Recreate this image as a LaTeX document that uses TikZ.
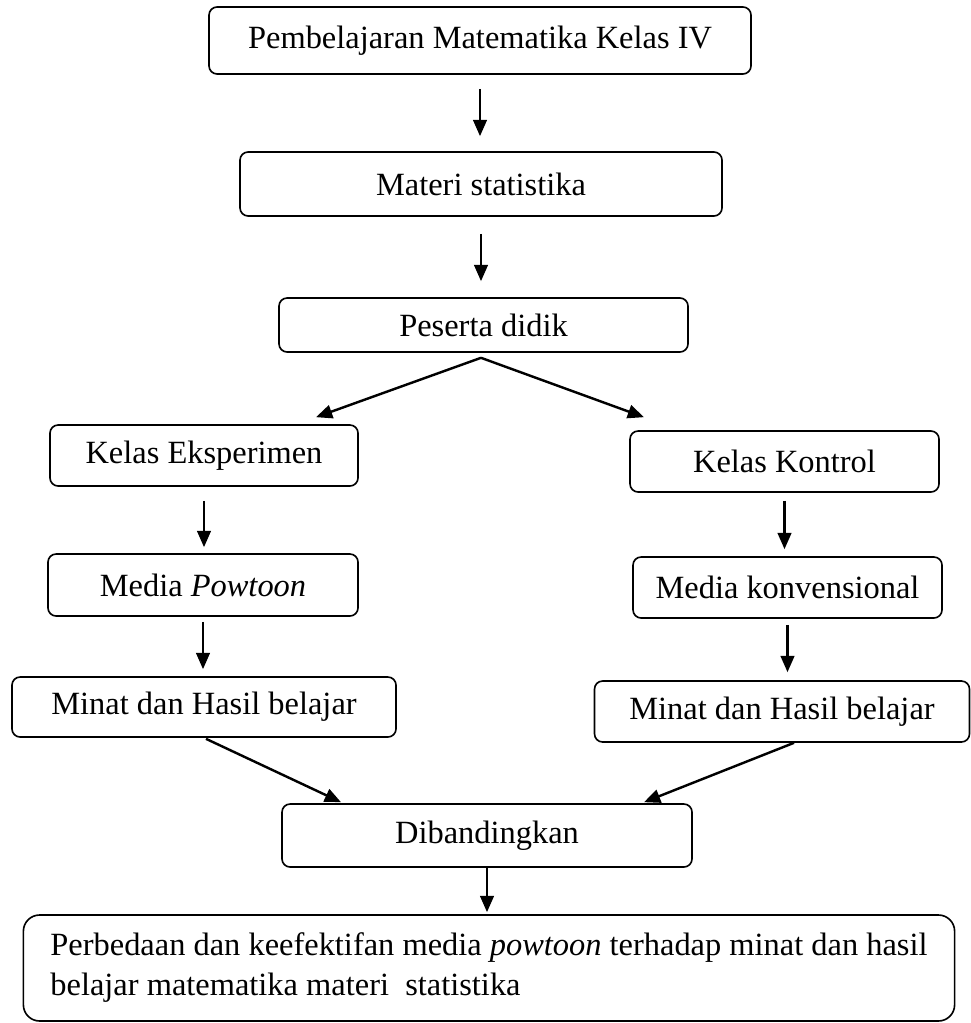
\documentclass[tikz,border=0pt]{standalone}
\usepackage{fontspec}
\setmainfont{Liberation Serif}
\usetikzlibrary{arrows.meta}
\newcommand{\pxu}{0.37pt}

\begin{document}
\begin{tikzpicture}[x=0.37pt,y=-0.37pt,
  box/.style={draw,rounded corners=3pt,line width=0.6pt,font=\fontsize{12}{14.8}\selectfont,inner sep=0pt},
  arr/.style={-{Triangle[length=6pt,width=5pt]},line width=0.9pt}]
  \useasboundingbox (0,0) rectangle (971,1023);
  % top chain
  \node[box,minimum width=542*\pxu,minimum height=67*\pxu] (pmk) at (480,40.5) {Pembelajaran Matematika Kelas IV};
  \node[box,minimum width=482*\pxu,minimum height=64*\pxu] (mat) at (481,184) {Materi statistika};
  \node[box,minimum width=409*\pxu,minimum height=54*\pxu] (pd) at (483.5,325) {Peserta didik};
  % two classes
  \node[box,minimum width=308*\pxu,minimum height=61*\pxu] (ke) at (204,455.5) {Kelas Eksperimen};
  \node[box,minimum width=309*\pxu,minimum height=61*\pxu] (kk) at (784.5,461.5) {Kelas Kontrol};
  \node[box,minimum width=310*\pxu,minimum height=62*\pxu] (mp) at (203,585) {Media \emph{Powtoon}};
  \node[box,minimum width=309*\pxu,minimum height=61*\pxu] (mk) at (787.5,587.5) {Media konvensional};
  \node[box,minimum width=384*\pxu,minimum height=60*\pxu] (mhl) at (204,707) {Minat dan Hasil belajar};
  \node[box,minimum width=375*\pxu,minimum height=61*\pxu] (mhr) at (782,711.5) {Minat dan Hasil belajar};
  % result
  \node[box,minimum width=410*\pxu,minimum height=63*\pxu] (db) at (487,835.5) {Dibandingkan};
  \node[box,rounded corners=6pt,minimum width=922*\pxu,minimum height=106*\pxu,align=left,inner xsep=10pt] (hasil) at (489,968)
    {Perbedaan dan keefektifan media \emph{powtoon} terhadap minat dan hasil\\ belajar matematika materi~ statistika};

  \draw[arr,shorten <=14*\pxu,shorten >=15*\pxu] (pmk.south) -- (pmk.south |- mat.north);
  \draw[arr,shorten <=17*\pxu,shorten >=16*\pxu] (mat.south) -- (mat.south |- pd.north);
  \draw[arr] ([shift={(-2.5,5)}]pd.south) -- ([shift={(112,-7)}]ke.north);
  \draw[arr] ([shift={(-2.5,5)}]pd.south) -- ([shift={(-140.5,-13)}]kk.north);
  \draw[arr,shorten <=14*\pxu,shorten >=6*\pxu] (ke.south) -- (ke.south |- mp.north);
  \draw[arr,shorten <=5*\pxu,shorten >=7*\pxu] (mp.south) -- (mp.south |- mhl.north);
  \draw[arr,shorten <=8*\pxu,shorten >=7*\pxu] (kk.south) -- (kk.south |- mk.north);
  \draw[arr,shorten <=6*\pxu,shorten >=8*\pxu] (mk.south) -- (mk.south |- mhr.north);
  \draw[arr] ([shift={(2,1)}]mhl.south) -- ([shift={(-146,-1)}]db.north);
  \draw[arr] ([shift={(12,0)}]mhr.south) -- ([shift={(157,-1)}]db.north);
  \draw[arr,shorten >=2*\pxu] (db.south) -- (db.south |- hasil.north);
\end{tikzpicture}
\end{document}
